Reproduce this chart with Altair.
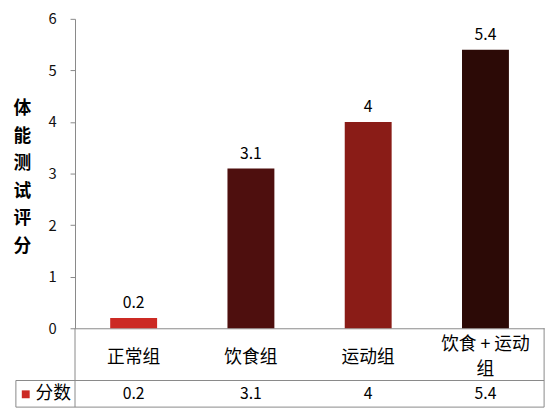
import altair as alt
import pandas as pd

categories = ["正常组", "饮食组", "运动组", "饮食 + 运动\n组"]
values = [0.2, 3.1, 4, 5.4]
colors = ["#cc2a24", "#4e0f0e", "#8a1c17", "#2c0a06"]
series_name = "分数"
y_title = ["体", "能", "测", "试", "评", "分"]

df = pd.DataFrame({"cat": categories, "val": values})
one = pd.DataFrame({"k": [0]})

FONT = "Noto Sans CJK SC"
W, H = 476, 314
ROW = 367      # table row separator (relative to plot top)
BOT = 394      # table bottom
VAL_Y = 381    # table value row center

x_enc = alt.X(
    "cat:N",
    sort=categories,
    scale=alt.Scale(paddingInner=0.6, paddingOuter=0.3),
    axis=alt.Axis(
        title=None, ticks=False, tickSize=0, labelAngle=0,
        labelPadding={"condition": {"test": "indexof(datum.label, '\\n') >= 0", "value": 17},
                      "value": 30},
        labelBaseline="middle", labelFontSize=18, labelColor="#000",
        labelFont=FONT, labelLineHeight=25, labelLimit=200,
        labelExpr="split(datum.label, '\\n')",
        domainColor="#888", domainWidth=1,
    ),
)

bars = alt.Chart(df).mark_bar().encode(
    x=x_enc,
    y=alt.Y(
        "val:Q",
        scale=alt.Scale(domain=[0, 6], nice=False),
        axis=alt.Axis(
            values=[0, 1, 2, 3, 4, 5, 6], grid=False, tickSize=5,
            tickColor="#888", domainColor="#888", labelFontSize=15,
            labelColor="#111", labelFont=FONT, labelPadding=14,
            title=y_title, titleAngle=0, titleX=-54, titleY=91,
            titleAlign="center", titleBaseline="middle", titleLineHeight=28,
            titleFontSize=18, titleFontWeight="bold", titleFont=FONT,
            titleColor="#000",
        ),
    ),
    color=alt.Color("cat:N", sort=categories,
                    scale=alt.Scale(domain=categories, range=colors), legend=None),
)

labels = alt.Chart(df).mark_text(
    baseline="alphabetic", dy=-10, fontSize=16, font=FONT, color="#000"
).encode(x=alt.X("cat:N", sort=categories), y="val:Q", text="val:Q")

table_vals = alt.Chart(df).mark_text(
    baseline="middle", fontSize=16, font=FONT, color="#000"
).encode(x=alt.X("cat:N", sort=categories), y=alt.value(VAL_Y), text="val:Q")

line_style = dict(color="#888", strokeWidth=1)
r1 = alt.Chart(one).mark_rule(**line_style).encode(
    x=alt.value(0), y=alt.value(H), y2=alt.value(BOT))
r2 = alt.Chart(one).mark_rule(**line_style).encode(
    x=alt.value(-60), x2=alt.value(W), y=alt.value(ROW))
r3 = alt.Chart(one).mark_rule(**line_style).encode(
    x=alt.value(-60), y=alt.value(ROW), y2=alt.value(BOT))
r4 = alt.Chart(one).mark_rule(**line_style).encode(
    x=alt.value(-60), x2=alt.value(W), y=alt.value(BOT))
r5 = alt.Chart(one).mark_rule(**line_style).encode(
    x=alt.value(W), y=alt.value(H), y2=alt.value(BOT))

swatch = alt.Chart(one).mark_rect(color=colors[0]).encode(
    x=alt.value(-54), x2=alt.value(-46), y=alt.value(VAL_Y - 4), y2=alt.value(VAL_Y + 4))
series_lbl = alt.Chart(pd.DataFrame({"t": [series_name]})).mark_text(
    align="center", baseline="middle", fontSize=18, font=FONT, color="#000"
).encode(x=alt.value(-22), y=alt.value(VAL_Y), text="t:N")

chart = alt.layer(
    bars, labels, table_vals, r1, r2, r3, r4, r5, swatch, series_lbl
).properties(
    width=W, height=H,
    autosize=alt.AutoSizeParams(type="none"),
    padding={"left": 68, "top": 8, "right": 7, "bottom": 85},
    background="white",
).configure_view(stroke=None)

chart.save("out.html", embed_options={"renderer": "svg", "actions": False})
